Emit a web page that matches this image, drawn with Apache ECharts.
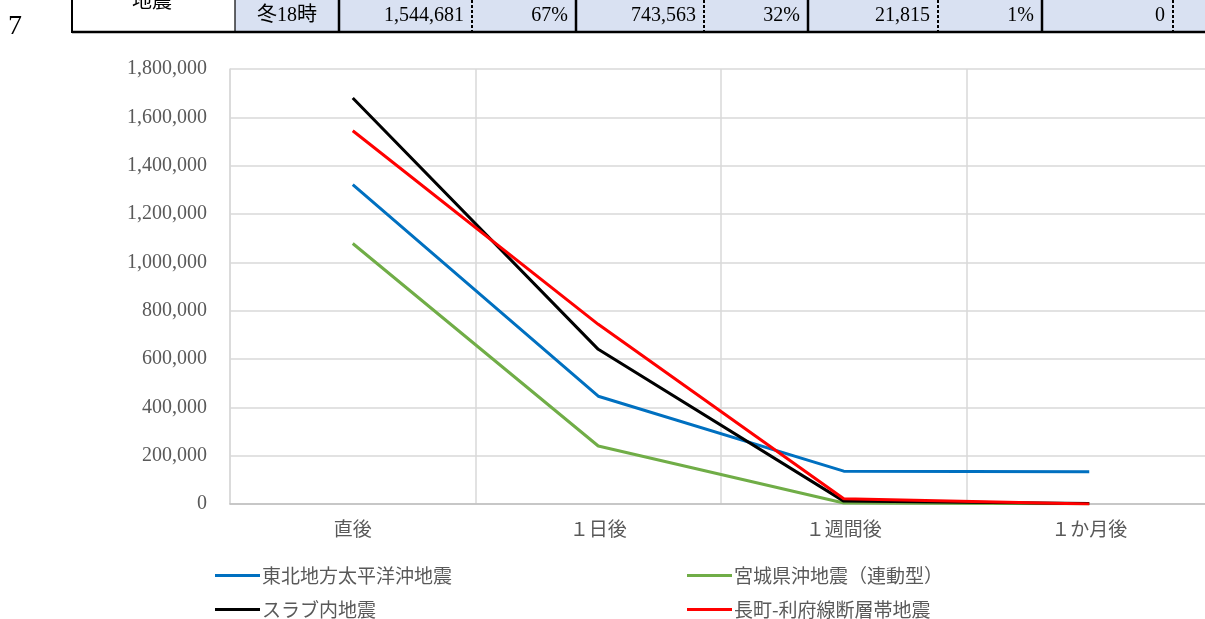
<!DOCTYPE html>
<html><head><meta charset="utf-8">
<script src="https://cdn.jsdelivr.net/npm/echarts@6/dist/echarts.min.js"></script>
<style>html,body{margin:0;padding:0;background:#fff;overflow:hidden}#c{width:1215px;height:619px}</style>
</head><body><div id="c"></div>
<script>
const categories = ['直後', '１日後', '１週間後', '１か月後'];
const seriesNames = ['東北地方太平洋沖地震', '宮城県沖地震（連動型）', 'スラブ内地震', '長町-利府線断層帯地震'];
const tohoku = [1322000, 446000, 136000, 133000];
const miyagi = [1078000, 240000, 4000, 1000];
const slab = [1680000, 640000, 12000, 2000];
const nagamachi = [1544681, 743563, 21815, 0];
const yTicks = [0, 200000, 400000, 600000, 800000, 1000000, 1200000, 1400000, 1600000, 1800000];
const rowNumber = '7';
const rowHeader = '地震';
const tableCells = ['冬18時', '1,544,681', '67%', '743,563', '32%', '21,815', '1%', '0'];

const colors = ['#0070C0', '#70AD47', '#000000', '#FF0000'];
const FONT = "'Liberation Serif', 'Noto Sans CJK JP', serif";

// table layout (cell edges)
const edges = [235, 339, 472, 576, 704, 808, 938, 1042, 1173];
const edgeStyle = ['thin', 'thick', 'dash', 'thick', 'dash', 'thick', 'dash', 'thick', 'dash'];
const graphics = [];
graphics.push({type: 'rect', shape: {x: 235, y: -20, width: 985, height: 52}, style: {fill: '#D9E1F2'}, z: 0});
graphics.push({type: 'text', x: 15, y: 27, style: {text: rowNumber, font: "28px 'Liberation Serif', serif", fill: '#000', textAlign: 'center', textVerticalAlign: 'middle'}});
graphics.push({type: 'text', x: 152, y: 0, style: {text: rowHeader, font: "20px 'Noto Sans CJK JP', sans-serif", fill: '#000', textAlign: 'center', textVerticalAlign: 'middle'}});
graphics.push({type: 'line', shape: {x1: 72, y1: 32, x2: 1215, y2: 32}, style: {stroke: '#000', lineWidth: 2.5}});
graphics.push({type: 'line', shape: {x1: 72, y1: -5, x2: 72, y2: 33}, style: {stroke: '#000', lineWidth: 2}});
edges.forEach((x, i) => {
  const st = edgeStyle[i];
  graphics.push({type: 'line', shape: {x1: x, y1: -5, x2: x, y2: 33},
    style: {stroke: '#000', lineWidth: st === 'thick' ? 2.5 : (st === 'dash' ? 2 : 1.2), lineDash: st === 'dash' ? [3, 2] : null}});
});
const cellRight = [339, 339, 472, 576, 704, 808, 938, 1042, 1173];
tableCells.forEach((t, i) => {
  if (i === 0) {
    graphics.push({type: 'text', x: 287, y: 16, style: {text: t, font: "20px " + FONT, fill: '#000', textAlign: 'center', textVerticalAlign: 'middle'}});
  } else {
    graphics.push({type: 'text', x: cellRight[i + 1] - 8, y: 16, style: {text: t, font: "20px " + FONT, fill: '#000', textAlign: 'right', textVerticalAlign: 'middle'}});
  }
});

const allData = [tohoku, miyagi, slab, nagamachi];
const legendPos = [[210, 561], [682, 561], [210, 595], [682, 595]];

const chart = echarts.init(document.getElementById('c'), null, {renderer: 'canvas'});
chart.setOption({
  animation: false,
  backgroundColor: '#fff',
  grid: {left: 230, top: 69, height: 435, width: 982, containLabel: false},
  xAxis: {
    type: 'category', data: categories, boundaryGap: true,
    axisLine: {show: true, lineStyle: {color: '#BFBFBF', width: 1.5}},
    axisTick: {show: false},
    axisLabel: {color: '#595959', fontSize: 19, fontFamily: FONT, margin: 18},
    splitLine: {show: true, lineStyle: {color: '#D9D9D9', width: 1.5}}
  },
  yAxis: {
    type: 'value', min: 0, max: 1800000, interval: 200000,
    axisLine: {show: true, lineStyle: {color: '#D9D9D9', width: 1.5}},
    axisTick: {show: false},
    axisLabel: {color: '#595959', fontSize: 20, fontFamily: "'Liberation Serif', serif", margin: 23,
      formatter: v => yTicks.includes(v) ? v.toLocaleString('en-US') : ''},
    splitLine: {show: true, lineStyle: {color: '#D9D9D9', width: 1.5}}
  },
  legend: seriesNames.map((n, i) => ({
    data: [n], left: legendPos[i][0], top: legendPos[i][1],
    icon: 'rect', itemWidth: 45, itemHeight: 3, itemGap: 0,
    textStyle: {color: '#595959', fontSize: 19, fontFamily: "'Noto Sans CJK JP', sans-serif", padding: [0, 0, 0, -3]}
  })),
  graphic: graphics,
  series: seriesNames.map((n, i) => ({
    name: n, type: 'line', data: allData[i], showSymbol: false, symbol: 'none',
    lineStyle: {color: colors[i], width: 3}, itemStyle: {color: colors[i]}
  }))
});
</script></body></html>
